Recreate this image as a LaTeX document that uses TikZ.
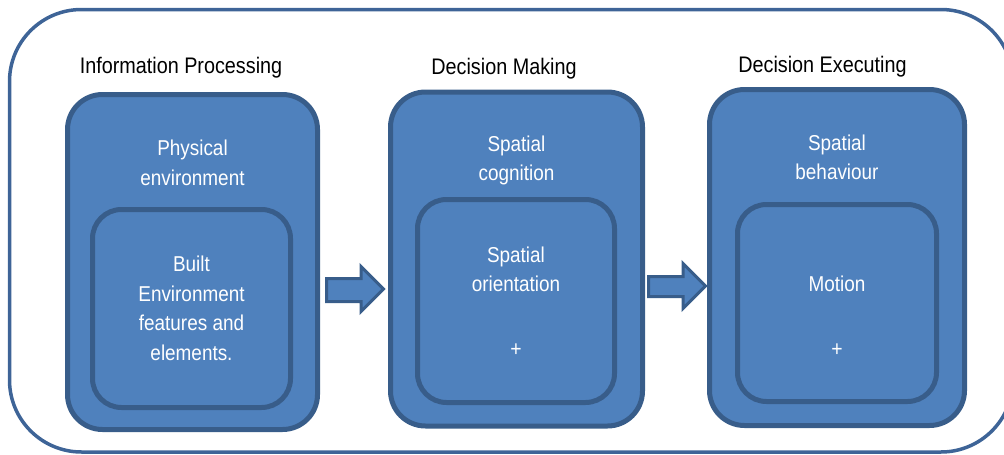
\documentclass[tikz,border=0pt]{standalone}
\usepackage{fontspec}
\setmainfont{Liberation Sans}
\newfontfamily\narrowfont[FakeStretch=0.88]{Liberation Sans}
\definecolor{boxfill}{HTML}{4F81BD}
\definecolor{boxline}{HTML}{385D8A}
\definecolor{frameline}{HTML}{3E6497}
\tikzset{
  outerbox/.style={draw=boxline, fill=boxfill, line width=5pt, rounded corners=35pt, inner sep=0pt},
  innerbox/.style={draw=boxline, fill=boxfill, line width=5pt, rounded corners=29pt, inner sep=0pt},
  boxtext/.style={text=white, font=\narrowfont\fontsize{21.5pt}{29.5pt}\selectfont, align=center, inner sep=0pt},
  plustext/.style={text=white, font=\narrowfont\fontsize{22pt}{24pt}\selectfont, inner sep=0pt},
  header/.style={text=black, font=\narrowfont\fontsize{22.5pt}{26pt}\selectfont, anchor=base, inner sep=0pt},
  blockarrow/.style={draw=boxline, fill=boxfill, line width=3pt, line join=miter}
}
\begin{document}
\begin{tikzpicture}[x=1pt,y=-1pt]
\useasboundingbox (0,0) rectangle (1004,455);
% outer frame
\draw[frameline, line width=3.5pt, rounded corners=72pt] (9.5,9.5) rectangle (1013,452);
% headers
\node[header] (h1) at (181,73) {Information Processing};
\node[header] (h2) at (504,74) {Decision Making};
\node[header] (h3) at (822.5,72) {Decision Executing};
% box 1
\node[outerbox, minimum width=250pt, minimum height=335pt] (b1) at (192.5,262) {};
\node[innerbox, minimum width=198pt, minimum height=198pt] (i1) at (191.5,308.5) {};
\node[boxtext] (t1) at (192.5,163) {Physical\\environment};
\node[boxtext] (u1) at (191.5,308.5) {Built\\Environment\\features and\\elements.};
% box 2
\node[outerbox, minimum width=252pt, minimum height=334pt] (b2) at (516.5,259) {};
\node[innerbox, minimum width=197pt, minimum height=203pt] (i2) at (516,301) {};
\node[boxtext] (t2) at (516.5,160.5) {Spatial\\cognition};
\node[boxtext] (u2) at (516,269.5) {Spatial\\orientation};
\node[plustext] (p2) at (516,350) {+};
% box 3
\node[outerbox, minimum width=255pt, minimum height=336pt] (b3) at (837,257.5) {};
\node[innerbox, minimum width=199pt, minimum height=197pt] (i3) at (837,303) {};
\node[boxtext] (t3) at (837,157.5) {Spatial\\behaviour};
\node[boxtext] (u3) at (837,284) {Motion};
\node[plustext] (p3) at (837,350) {+};
% block arrows
\draw[blockarrow] (326.5,278.5) -- (361,278.5) -- (361,266.5) -- (383.5,289) -- (361,311.5) -- (361,301.5) -- (326.5,301.5) -- cycle;
\draw[blockarrow] (648.5,276.5) -- (683,276.5) -- (683,263.5) -- (705.5,286) -- (683,308.5) -- (683,296.5) -- (648.5,296.5) -- cycle;
\end{tikzpicture}
\end{document}
